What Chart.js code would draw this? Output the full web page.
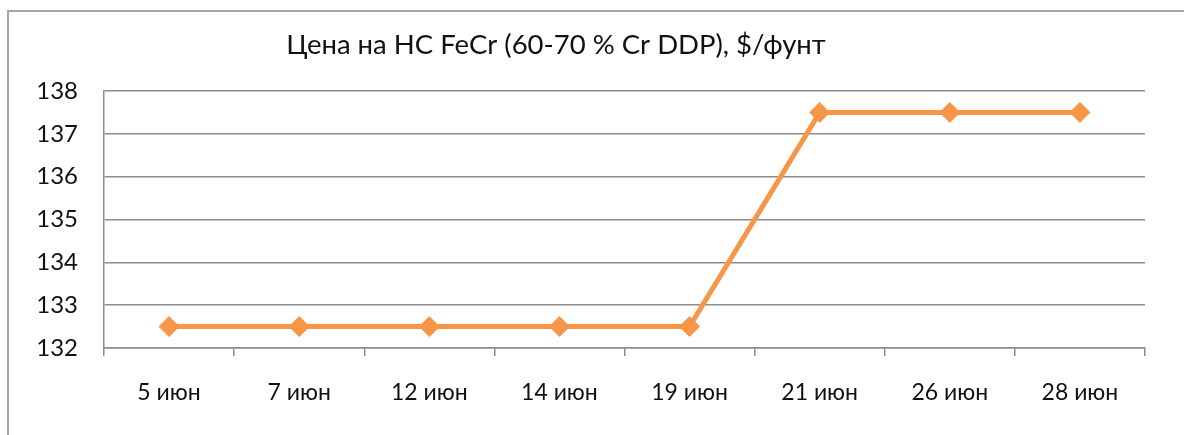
<!DOCTYPE html>
<html>
<head>
<meta charset="utf-8">
<script src="https://cdn.jsdelivr.net/npm/chart.js@4"></script>
<style>
  html, body { margin: 0; padding: 0; background: #fff; }
  #wrap { width: 1184px; height: 435px; position: relative; }
</style>
</head>
<body>
<div id="wrap"><canvas id="chart" width="1184" height="435"></canvas></div>
<script>
const titleText = 'Цена на HC FeCr (60-70 % Cr DDP), $/фунт'
const categories = ['5 июн', '7 июн', '12 июн', '14 июн', '19 июн', '21 июн', '26 июн', '28 июн']
const prices = [132.5, 132.5, 132.5, 132.5, 132.5, 137.5, 137.5, 137.5]
const yMin = 132
const yMax = 138
const yStep = 1

const fontFamily = 'Lato, "Noto Sans", sans-serif'
const textColor = '#111111'
const gridColor = '#8c8c8c'
const lineColor = '#F79646'

// frame + title, drawn like the Excel chart box
const chartFrame = {
  id: 'chartFrame',
  afterDraw(chart) {
    const ctx = chart.ctx
    ctx.save()
    ctx.strokeStyle = '#a6a6a6'
    ctx.lineWidth = 2
    ctx.beginPath()
    ctx.moveTo(8, 435)
    ctx.lineTo(8, 11)
    ctx.lineTo(1184, 11)
    ctx.stroke()
    ctx.fillStyle = textColor
    ctx.font = '27.5px ' + fontFamily
    ctx.textAlign = 'center'
    ctx.textBaseline = 'middle'
    ctx.fillText(titleText, 556, 45)
    ctx.restore()
  }
}

const canvas = document.getElementById('chart')
const chart = new Chart(canvas.getContext('2d'), {
  type: 'line',
  data: {
    labels: categories,
    datasets: [{
      data: prices,
      borderColor: lineColor,
      backgroundColor: lineColor,
      borderWidth: 5,
      pointStyle: 'rectRot',
      pointRadius: 10,
      pointBorderWidth: 1,
      pointHoverRadius: 10,
      tension: 0
    }]
  },
  options: {
    responsive: false,
    animation: false,
    layout: { padding: { top: 91, right: 39, bottom: 0, left: 0 } },
    plugins: {
      legend: { display: false },
      title: { display: false },
      tooltip: { enabled: false }
    },
    scales: {
      x: {
        offset: true,
        grid: {
          offset: true,
          drawOnChartArea: false,
          drawTicks: true,
          tickLength: 8,
          color: gridColor,
          lineWidth: 1.5
        },
        border: { color: gridColor, width: 1.5 },
        ticks: {
          color: textColor,
          font: { family: fontFamily, size: 23 },
          padding: 23,
          maxRotation: 0,
          autoSkip: false
        },
        afterFit(scale) { scale.height = 87 }
      },
      y: {
        min: yMin,
        max: yMax,
        grid: {
          color: gridColor,
          lineWidth: 1.5,
          drawTicks: false
        },
        border: { color: gridColor, width: 1.5 },
        ticks: {
          stepSize: yStep,
          color: textColor,
          font: { family: fontFamily, size: 24 },
          padding: 26
        },
        afterFit(scale) { scale.width = 104 }
      }
    }
  },
  plugins: [chartFrame]
})
</script>
</body>
</html>
